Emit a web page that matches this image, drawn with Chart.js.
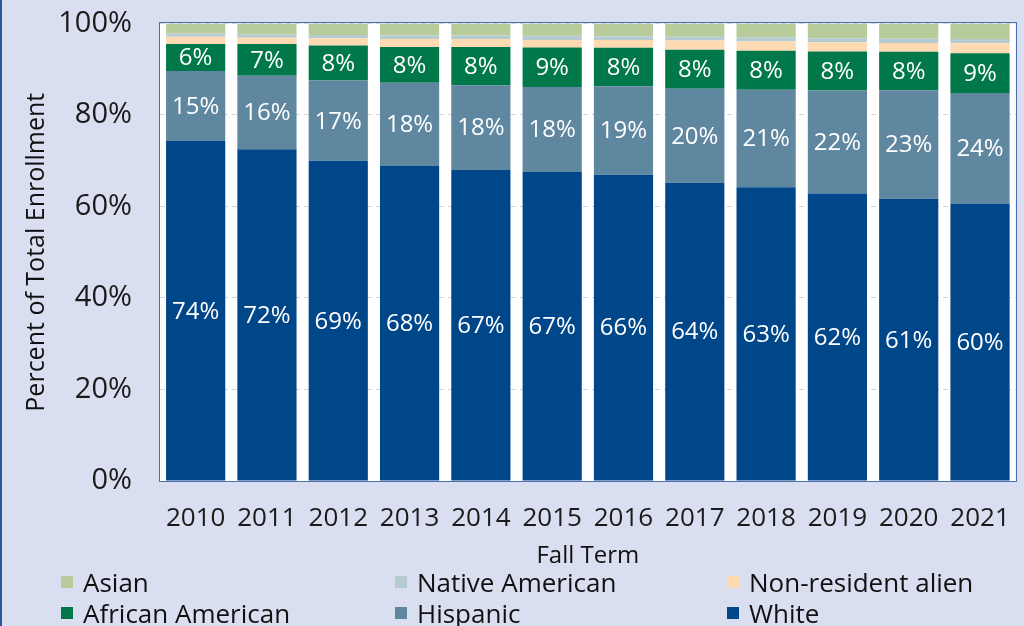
<!DOCTYPE html>
<html><head><meta charset="utf-8">
<script src="https://cdn.jsdelivr.net/npm/chart.js@4/dist/chart.umd.min.js"></script>
<style>
html,body{margin:0;padding:0;background:#D9DFF1;}
body{width:1024px;height:626px;overflow:hidden;position:relative;}
#frame{position:absolute;left:0;top:0;width:2px;height:626px;background:#2E5597;}
#wrap{position:absolute;left:0;top:0;width:1024px;height:626px;}
#legend{position:absolute;left:0;top:0;width:1024px;height:626px;pointer-events:none;font-family:"Open Sans",sans-serif;font-size:26px;color:#111;}
.item{position:absolute;display:flex;align-items:center;white-space:nowrap;height:30px;}
.sw{width:12px;height:12px;margin-right:10px;}
</style></head><body>
<div id="wrap"><canvas id="c" width="1024" height="626"></canvas></div>
<div id="frame"></div>
<div id="legend"></div>
<script>
// ---- data (percent of total enrollment) ----
const years = ['2010','2011','2012','2013','2014','2015','2016','2017','2018','2019','2020','2021'];
const white           = [74.2,72.3,69.4,68.4,67.4,67.0,66.4,64.4,63.4,62.2,60.8,60.3];
const hispanic        = [15.3,16.0,17.4,18.1,18.4,18.4,19.2,20.3,21.1,22.3,23.4,24.0];
const africanAmerican = [5.9,6.9,7.6,7.8,8.3,8.6,8.3,8.4,8.4,8.4,8.3,8.6];
const nonResident     = [1.6,1.4,1.6,1.7,1.7,1.6,1.7,2.0,2.0,2.0,1.9,2.2];
const nativeAmerican  = [0.7,0.7,0.7,0.8,0.8,0.9,0.8,0.8,0.9,0.9,0.9,0.9];
const asian           = [2.2,2.4,2.5,2.6,2.6,2.7,2.8,2.9,3.0,3.2,3.3,3.4];
const yTicks = [0,20,40,60,80,100];

// 100% stacked: normalise each year's shares
const series = [
  {label:'White', raw:white, color:'#00478A', showLabel:true},
  {label:'Hispanic', raw:hispanic, color:'#5F87A0', showLabel:true},
  {label:'African American', raw:africanAmerican, color:'#00784A', showLabel:true},
  {label:'Non-resident alien', raw:nonResident, color:'#FDDAB2', showLabel:false},
  {label:'Native American', raw:nativeAmerican, color:'#B5CBD0', showLabel:false},
  {label:'Asian', raw:asian, color:'#B8CB9A', showLabel:false}
];
const totals = years.map((_,i)=>series.reduce((s,d)=>s+d.raw[i],0));

const datasets = series.map(s=>({
  label:s.label,
  raw:s.raw,
  showLabel:s.showLabel,
  data:s.raw.map((v,i)=>v/totals[i]*100),
  backgroundColor:s.color,
  borderWidth:0,
  barPercentage:0.83,
  categoryPercentage:1.0
}));

const plotBg = {
  id:'plotBg',
  beforeDraw(c){const a=c.chartArea,ctx=c.ctx;ctx.save();ctx.fillStyle='#ffffff';ctx.fillRect(a.left,a.top,a.right-a.left,a.bottom-a.top);ctx.restore();},
  afterDraw(c){const a=c.chartArea,ctx=c.ctx;ctx.save();ctx.strokeStyle='#4A6FAE';ctx.lineWidth=1;ctx.strokeRect(Math.round(a.left)-0.5,Math.round(a.top)-0.5,Math.round(a.right-a.left)+1,Math.round(a.bottom-a.top)+1);ctx.restore();}
};
const segLabels = {
  id:'segLabels',
  afterDatasetsDraw(chart){
    const ctx=chart.ctx;
    chart.data.datasets.forEach((ds,di)=>{
      if(!ds.showLabel) return;
      const meta=chart.getDatasetMeta(di);
      meta.data.forEach((el,i)=>{
        const p=el.getProps(['x','y','base'],true);
        ctx.save();
        ctx.fillStyle='#ffffff';
        ctx.font='24px "Open Sans", sans-serif';
        ctx.textAlign='center';ctx.textBaseline='middle';
        ctx.fillText(Math.round(ds.raw[i])+'%',p.x,(p.y+p.base)/2+1);
        ctx.restore();
      });
    });
  }
};

new Chart(document.getElementById('c'),{
  type:'bar',
  data:{labels:years,datasets:datasets},
  plugins:[plotBg,segLabels],
  options:{
    responsive:false,animation:false,
    layout:{padding:{left:22,right:6,top:0,bottom:55}},
    plugins:{legend:{display:false},tooltip:{enabled:false}},
    scales:{
      x:{stacked:true,
        grid:{display:false},
        border:{display:false},
        ticks:{color:'#1a1a1a',font:{family:'"Open Sans"',size:26},padding:14,maxRotation:0},
        title:{display:true,text:'Fall Term',color:'#111',font:{family:'"Open Sans"',size:24},padding:{top:-6,bottom:0}}
      },
      y:{stacked:true,min:0,max:100,
        afterBuildTicks(s){s.ticks=yTicks.map(v=>({value:v}));},
        afterFit(s){s.width=138;},
        grid:{color:'#D4D4D4',drawTicks:true,tickLength:22,tickColor:'rgba(0,0,0,0)'},
        border:{display:false,dash:[5,4]},
        ticks:{color:'#1a1a1a',font:{family:'"Open Sans"',size:29},padding:6,callback:v=>v+'%'},
        title:{display:true,text:'Percent of Total Enrollment',color:'#111',font:{family:'"Open Sans"',size:25},padding:{top:0,bottom:0}}
      }
    }
  }
});

// legend (3 columns x 2 rows), order as in the reference
const legendOrder = ['Asian','Native American','Non-resident alien','African American','Hispanic','White'];
const colX=[61,395,727], rowY=[567,598];
const lg=document.getElementById('legend');
legendOrder.forEach((name,k)=>{
  const s=series.find(d=>d.label===name);
  const it=document.createElement('div');
  it.className='item';
  it.style.left=colX[k%3]+'px';it.style.top=rowY[Math.floor(k/3)]+'px';
  it.innerHTML='<span class="sw" style="background:'+s.color+'"></span><span>'+name+'</span>';
  lg.appendChild(it);
});
</script>
</body></html>
